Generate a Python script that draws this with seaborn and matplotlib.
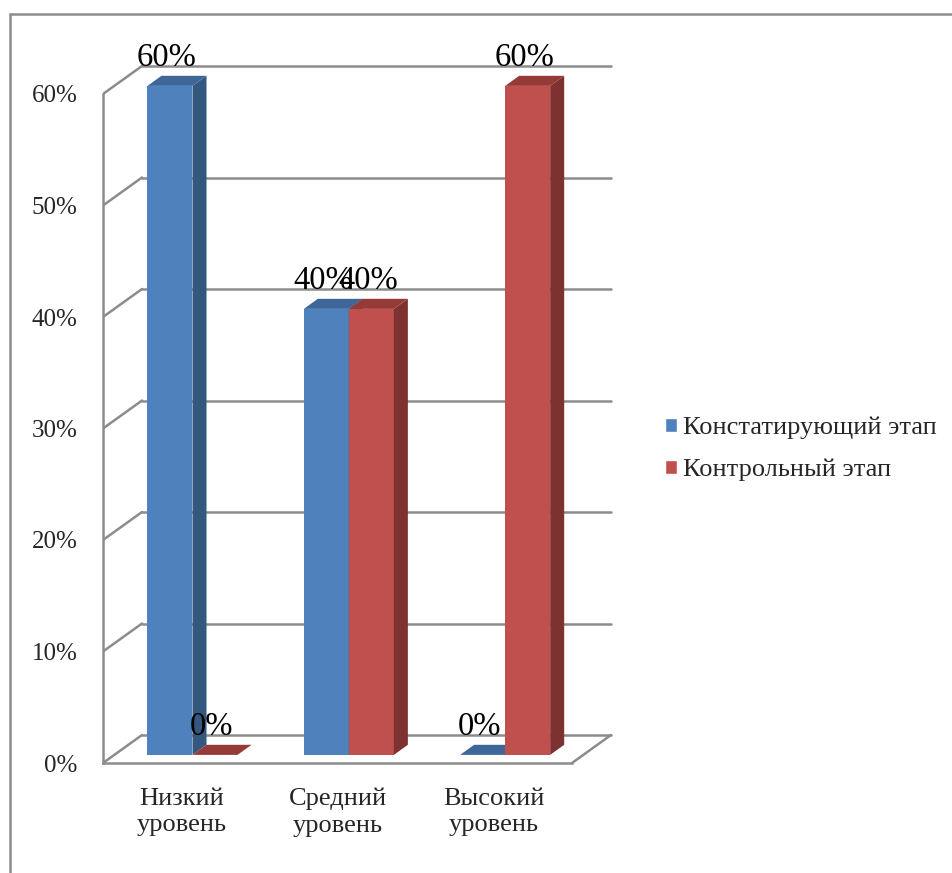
import matplotlib
matplotlib.use("Agg")
import matplotlib.pyplot as plt
from matplotlib.patches import Polygon
from matplotlib.lines import Line2D
from matplotlib.transforms import Affine2D
import seaborn as sns
import pandas as pd

# data
levels = ["Низкий\nуровень", "Средний\nуровень", "Высокий\nуровень"]
stages = ["Констатирующий этап", "Контрольный этап"]
stage_1 = [0.60, 0.40, 0.00]
stage_2 = [0.00, 0.40, 0.60]
yticks = [0.0, 0.1, 0.2, 0.3, 0.4, 0.5, 0.6]

front_colors = ["#4F81BD", "#C0504D"]
side_colors = ["#34577F", "#7D3130"]
top_colors = ["#3E6698", "#953A37"]
grid_c = "#8C8C8C"

sns.set_style("white")
plt.rcParams["font.family"] = ["Liberation Serif", "DejaVu Serif"]

df = pd.DataFrame({
    "level": levels * 2,
    "stage": [stages[0]] * 3 + [stages[1]] * 3,
    "share": stage_1 + stage_2,
})

W, H = 953, 873
fig = plt.figure(figsize=(W / 100, H / 100), dpi=100)

# pixel geometry of the plot box
px_x = 156.33      # px per category
px_y = 1115.0      # px per 100 %
x0_px, y0_px = 103, 763
ax = fig.add_axes([x0_px / W, (H - y0_px) / H, 512 / W, 0.64 * px_y / H])

sns.barplot(data=df, x="level", y="share", hue="stage", palette=front_colors,
            width=0.576, saturation=1, ax=ax, legend=True)
handles, labels = ax.get_legend_handles_labels()
ax.get_legend().remove()

ax.set_xlim(-0.5, -0.5 + 512 / px_x)
ax.set_ylim(0, 0.64)

# fake depth of the 3d box
DX, DY = 39 / px_x, 28 / px_y
f_front, f_depth = 0.29, 0.36
sx, sy = f_front * DX, f_front * DY
bdx, bdy = f_depth * DX, f_depth * DY

# back wall and side wall lines
for t in yticks:
    ax.plot([-0.5 + DX, 2.5 + DX], [t + DY, t + DY], color=grid_c, lw=1.8, zorder=1)
    ax.plot([-0.5, -0.5 + DX], [t, t + DY], color=grid_c, lw=1.8, zorder=1)
ax.plot([2.5, 2.5 + DX], [0, DY], color=grid_c, lw=1.8, zorder=1)

# bars: push the seaborn faces back and add side/top faces
bars = []
for ci, cont in enumerate(ax.containers):
    for p in cont.patches:
        bars.append((p.get_x(), ci, p))
bars.sort(key=lambda b: b[0])
shift = Affine2D().translate(sx, sy) + ax.transData
for k, (_, ci, p) in enumerate(bars):
    z = 3 + k * 0.1
    p.set_transform(shift)
    p.set_zorder(z)
    p.set_edgecolor("none")
    x0 = p.get_x() + sx
    x1 = x0 + p.get_width()
    y0 = sy
    y1 = p.get_height() + sy
    side = Polygon([(x1, y0), (x1, y1), (x1 + bdx, y1 + bdy), (x1 + bdx, y0 + bdy)],
                   closed=True, fc=side_colors[ci], ec="none", zorder=z + 0.01)
    top = Polygon([(x0, y1), (x1, y1), (x1 + bdx, y1 + bdy), (x0 + bdx, y1 + bdy)],
                  closed=True, fc=top_colors[ci], ec="none", zorder=z + 0.02)
    ax.add_patch(side)
    ax.add_patch(top)
    ax.annotate(f"{p.get_height():.0%}", ((x0 + x1) / 2 - 0.02, y1),
                xytext=(0, 14.4), textcoords="offset points",
                ha="center", va="baseline", fontsize=23.5, color="black", zorder=10)

# axes
for s in ["top", "right"]:
    ax.spines[s].set_visible(False)
for s in ["left", "bottom"]:
    ax.spines[s].set_color(grid_c)
    ax.spines[s].set_linewidth(1.8)
ax.spines["left"].set_bounds(0, 0.6)
ax.spines["bottom"].set_bounds(-0.5, 2.5)

ax.set_yticks(yticks, [f"{t:.0%}" for t in yticks])
ax.tick_params(axis="y", length=4.5, width=1.8, color=grid_c, pad=14, labelsize=18)
ax.set_xticks([0, 1, 2], levels)
ax.set_xticks([-0.5, 0.5, 1.5, 2.5], minor=True)
ax.tick_params(axis="x", which="major", length=0, pad=18, labelsize=19)
ax.tick_params(axis="x", which="minor", length=5, width=1.8, color=grid_c)
for lab in ax.get_xticklabels():
    lab.set_linespacing(1.25)
ax.set_xlabel("")
ax.set_ylabel("")

fig.legend(handles, labels, loc="center left", bbox_to_anchor=(665 / W, 1 - 449 / H),
           frameon=False, fontsize=19, handlelength=0.45, handleheight=0.45,
           handletextpad=0.25, labelspacing=0.72, borderpad=0, borderaxespad=0)

# outer frame (left and top edges only)
fig.add_artist(Line2D([10 / W, 10 / W], [0, 1 - 14 / H], transform=fig.transFigure,
                      color=grid_c, lw=1.8))
fig.add_artist(Line2D([10 / W, 1], [1 - 14 / H, 1 - 14 / H], transform=fig.transFigure,
                      color=grid_c, lw=1.8))

fig.savefig("out.png", dpi=100)
